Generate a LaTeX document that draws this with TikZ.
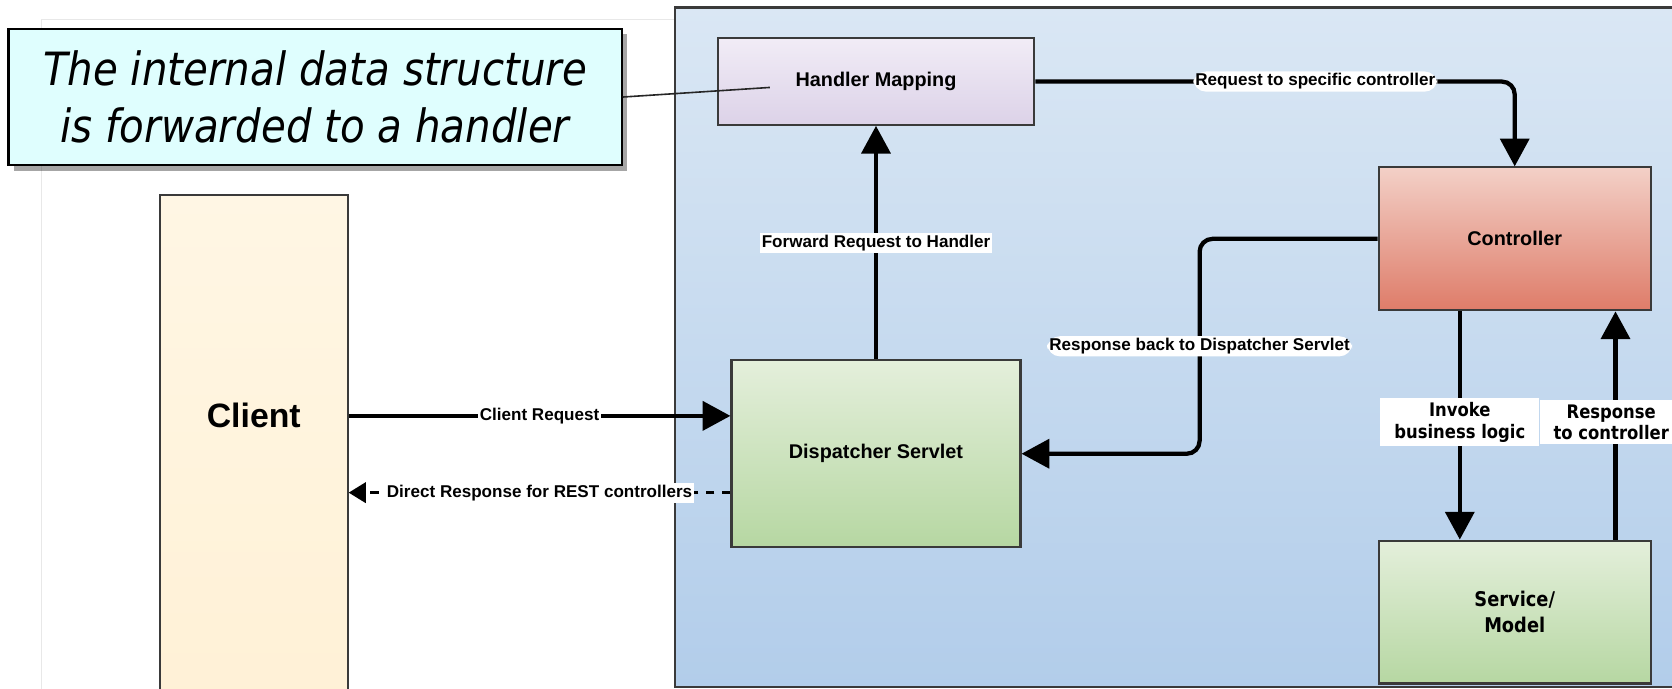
\documentclass[tikz,border=0pt]{standalone}
\usepackage{fontspec}
\setmainfont{Liberation Sans}
\newfontfamily\tahfont[FakeStretch=0.88]{DejaVu Sans}
\usetikzlibrary{arrows.meta,shadows,calc}
\definecolor{boxline}{HTML}{3A3A3A}
\definecolor{framegray}{HTML}{E8E8E8}
\definecolor{callfill}{HTML}{DFFEFE}
\definecolor{contop}{HTML}{DAE7F4}
\definecolor{conbot}{HTML}{B2CDEA}
\definecolor{hmtop}{HTML}{F1ECF6}
\definecolor{hmbot}{HTML}{DCD2E8}
\definecolor{cttop}{HTML}{F3D0C7}
\definecolor{ctbot}{HTML}{DE7C69}
\definecolor{grtop}{HTML}{E4EFDB}
\definecolor{grbot}{HTML}{B6D7A2}
\definecolor{cltop}{HTML}{FFF6E4}
\definecolor{clbot}{HTML}{FFF1D6}
\begin{document}
\begin{tikzpicture}[x=1pt,y=-1pt,
  box/.style={draw=boxline, line width=2pt, inner sep=0pt, align=center,
    font=\bfseries\fontsize{18.6}{22}\selectfont},
  arr/.style={line width=4pt, -{Triangle[length=26pt,width=27pt]}},
  darr/.style={line width=2.5pt, dash pattern=on 8pt off 7pt, -{Triangle[length=16pt,width=19pt]}},
  lbl/.style={fill=white, inner sep=2pt, text=black, font=\bfseries\fontsize{16}{19}\selectfont},
  tlbl/.style={fill=white, inner xsep=13pt, inner ysep=4pt, align=center, text=black,
    font=\tahfont\bfseries\fontsize{17.5}{20}\selectfont}
]
\useasboundingbox (0,0) rectangle (1568,646);
\clip (0,0) rectangle (1568,646);
\fill[white] (0,0) rectangle (1568,646);
\draw[framegray, line width=1pt] (39,646) -- (39,18) -- (633,18);

% container
\node[draw=boxline, line width=2pt, minimum width=957pt, minimum height=637pt,
  top color=contop, bottom color=conbot, inner sep=0pt] (container) at (1111.5,325.5) {};

% client
\node[box, minimum width=176pt, minimum height=477pt, top color=cltop, bottom color=clbot] (client) at (238,421.5) {};
\node[font=\bfseries\fontsize{31.7}{36}\selectfont] (clientlbl) at (238,390) {Client};

% callout
\node[draw=black, line width=2pt, fill=callfill, minimum width=575pt, minimum height=128pt,
  inner sep=0pt, align=center, font=\tahfont\itshape\fontsize{43}{54}\selectfont,
  drop shadow={shadow xshift=5pt, shadow yshift=-5pt, fill=black, opacity=0.35}]
  (callout) at (295.5,91) {The internal data structure\\is forwarded to a handler};

% boxes
\node[box, minimum width=297pt, minimum height=81pt, top color=hmtop, bottom color=hmbot] (handler) at (821.5,76.5) {Handler Mapping};
\node[box, minimum width=271pt, minimum height=175pt, top color=grtop, bottom color=grbot] (dispatcher) at (821.5,425.5) {Dispatcher Servlet};
\node[box, minimum width=255pt, minimum height=134pt, top color=cttop, bottom color=ctbot] (controller) at (1420.5,224) {Controller};
\node[box, minimum width=255pt, minimum height=134pt, top color=grtop, bottom color=grbot,
  font=\tahfont\bfseries\fontsize{19}{24}\selectfont] (service) at (1420.5,574) {Service/\\Model};

% callout pointer
\coordinate (hmpt) at (722,82);
\draw[line width=1.5pt, black!85] (callout.east) -- (hmpt);

% connectors
\coordinate (crd) at ([yshift=35.5pt]dispatcher.west);
\draw[arr] (client.east |- crd) -- node[lbl]{Client Request} (crd);

\coordinate (drd) at ([yshift=-36.5pt]dispatcher.west);
\draw[darr] (drd) -- node[lbl]{Direct Response for REST controllers} (client.east |- drd);

\draw[arr] (dispatcher.north) -- node[lbl]{Forward Request to Handler} (handler.south);

\draw[arr, rounded corners=12pt] (handler.east) -- node[lbl, pos=0.584]{Request to specific controller}
  (controller.north |- handler.east) -- (controller.north);

\coordinate (rbx) at (1125,224);
\draw[arr, rounded corners=12pt] (controller.west) -- (rbx |- controller.west)
  -- node[lbl]{Response back to Dispatcher Servlet} (rbx |- dispatcher.east) -- (dispatcher.east);

\coordinate (inv) at ([xshift=-51.5pt]controller.south);
\draw[arr] (inv) -- node[tlbl, yshift=3pt]{Invoke\\business logic} (inv |- service.north);

\coordinate (rtc) at ([xshift=94.5pt]service.north);
\draw[arr] (rtc) -- node[tlbl, xshift=-4pt, yshift=3pt]{Response\\to controller} (rtc |- controller.south);
\end{tikzpicture}
\end{document}
